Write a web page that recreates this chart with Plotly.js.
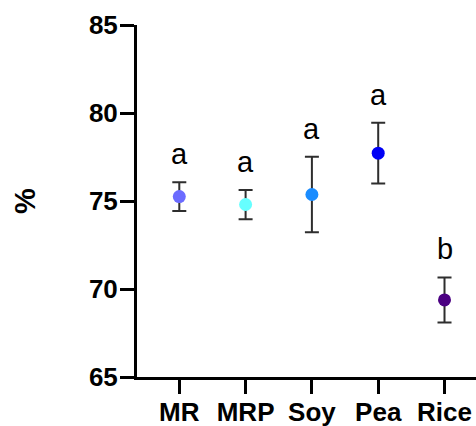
<!DOCTYPE html>
<html>
<head>
<meta charset="utf-8">
<script src="https://cdn.plot.ly/plotly-3.0.1.min.js"></script>
<style>html,body{margin:0;padding:0;background:#fff;}#chart{width:476px;height:426px;}</style>
</head>
<body>
<div id="chart"></div>
<script>
const categories = ["MR", "MRP", "Soy", "Pea", "Rice"];
const means = [75.25, 74.8, 75.37, 77.72, 69.38];
const errors = [0.82, 0.83, 2.15, 1.73, 1.28];
const letters = ["a", "a", "a", "a", "b"];
const dotColors = ["#6B6BFF", "#66FFFF", "#1A8CFF", "#0000F5", "#4B0082"];

const trace = {
  type: "scatter",
  mode: "markers",
  x: categories,
  y: means,
  marker: {color: dotColors, size: 13},
  error_y: {type: "data", array: errors, visible: true, color: "#2E2E2E", thickness: 2, width: 7},
  hoverinfo: "x+y"
};

const annotations = categories.map((c, i) => ({
  x: c, y: means[i] + errors[i], xref: "x", yref: "y",
  text: letters[i], showarrow: false, yanchor: "bottom", yshift: 10,
  font: {family: "Liberation Sans, Arial, sans-serif", size: 29, color: "#000"}
}));

const layout = {
  width: 476, height: 426,
  margin: {l: 137, r: 0, t: 25, b: 49, pad: 0},
  paper_bgcolor: "#fff", plot_bgcolor: "#fff",
  showlegend: false,
  font: {family: "Liberation Sans, Arial, sans-serif", color: "#000"},
  xaxis: {
    type: "category", range: [-0.638, 4.475],
    showline: true, linewidth: 3, linecolor: "#000",
    ticks: "outside", ticklen: 14, tickwidth: 3, tickcolor: "#000",
    ticklabelstandoff: -4,
    showgrid: false, zeroline: false,
    tickfont: {size: 26, family: "Liberation Sans, Arial, sans-serif", weight: "bold", color: "#000"}
  },
  yaxis: {
    range: [65, 85], tickvals: [65, 70, 75, 80, 85],
    showline: true, linewidth: 3, linecolor: "#000",
    ticks: "outside", ticklen: 14, tickwidth: 3, tickcolor: "#000",
    ticklabelstandoff: -3,
    showgrid: false, zeroline: false,
    tickfont: {size: 26, family: "Liberation Sans, Arial, sans-serif", weight: "bold", color: "#000"},
    title: {text: "%", standoff: 45, font: {size: 29, family: "Liberation Sans, Arial, sans-serif", weight: "bold", color: "#000"}},
    automargin: false
  },
  annotations: annotations
};

Plotly.newPlot("chart", [trace], layout, {displayModeBar: false, staticPlot: true});
</script>
</body>
</html>
